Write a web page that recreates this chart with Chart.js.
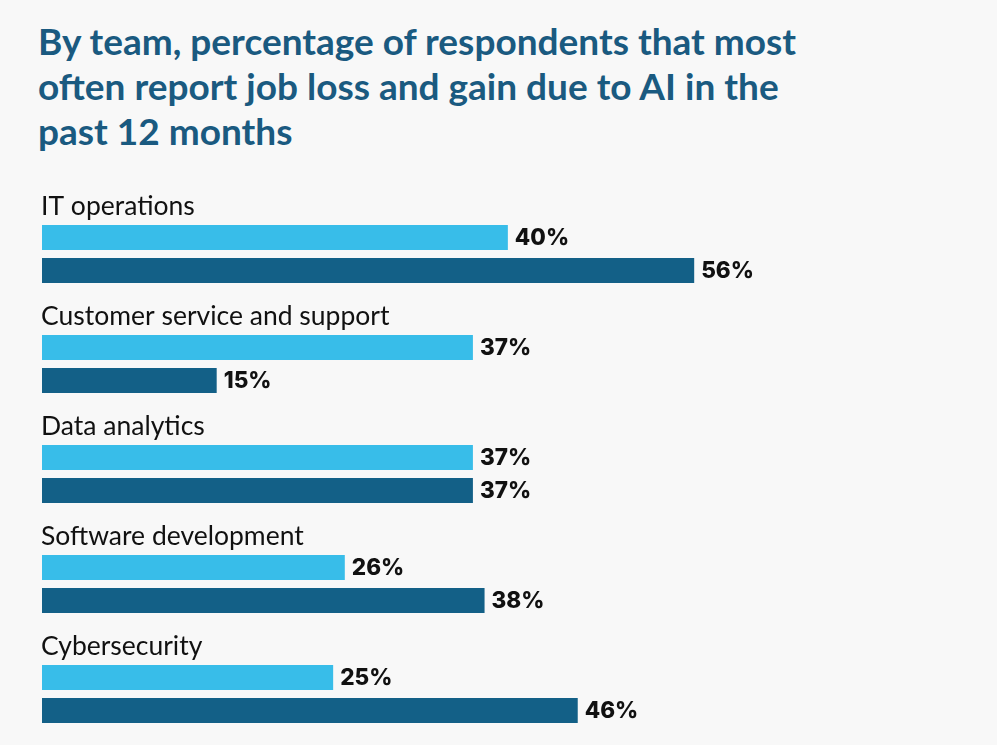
<!DOCTYPE html>
<html>
<head>
<meta charset="utf-8">
<script src="https://cdn.jsdelivr.net/npm/chart.js@4"></script>
<style>
    html, body { margin: 0; padding: 0; background: #f8f8f8; overflow: hidden; }
    h1 {
        position: absolute; left: 38px; top: 18px; margin: 0;
        font-family: Lato, sans-serif; font-weight: 700; font-size: 37px;
        line-height: 45px; color: #1a5a80; width: 900px;
    }
    #wrap { position: absolute; left: 0; top: 170px; width: 997px; height: 579px; }
</style>
</head>
<body>
<h1>By team, percentage of respondents that most<br>often report job loss and gain due to AI in the<br>past 12 months</h1>
<div id="wrap"><canvas id="myChart"></canvas></div>
<script>
// teams and the two series, in percent
const teams = [
    'IT operations',
    'Customer service and support',
    'Data analytics',
    'Software development',
    'Cybersecurity',
];
const jobLoss = [40, 37, 37, 26, 25];
const jobGain = [56, 15, 37, 38, 46];

// team name above each pair of bars + value at the end of each bar
const labelPlugin = {
    id: 'labelPlugin',
    afterDatasetsDraw: function (chart) {
        var ctx = chart.ctx;
        var yScale = chart.scales.y;
        var slot = yScale.getPixelForValue(1) - yScale.getPixelForValue(0);
        ctx.save();
        ctx.fillStyle = '#111111';
        ctx.font = '400 26.5px Lato';
        ctx.textAlign = 'left';
        ctx.textBaseline = 'alphabetic';
        for (var i = 0; i < teams.length; i++) {
            var y = yScale.getPixelForValue(i) - slot / 2 + 16;
            ctx.fillText(teams[i], chart.chartArea.left - 1, y);
        }
        ctx.font = '800 22.5px Inter';
        ctx.textBaseline = 'middle';
        chart.data.datasets.forEach(function (ds, d) {
            chart.getDatasetMeta(d).data.forEach(function (bar, i) {
                ctx.fillText(ds.data[i] + '%', bar.x + 7, bar.y + 1);
            });
        });
        ctx.restore();
    }
};

var myChart = new Chart(document.getElementById('myChart'), {
    type: 'bar',
    data: {
        labels: teams,
        datasets: [{
            label: 'Job loss',
            data: jobLoss,
            backgroundColor: '#38bde9',
        }, {
            label: 'Job gain',
            data: jobGain,
            backgroundColor: '#136087',
        }]
    },
    options: {
        indexAxis: 'y',
        responsive: true,
        maintainAspectRatio: false,
        animation: false,
        categoryPercentage: 0.6,
        barPercentage: 25 / 33,
        layout: { padding: { left: 42, top: 29, right: 0, bottom: 0 } },
        scales: {
            x: { display: false, min: 0, max: 82 },
            y: { display: false }
        },
        plugins: {
            legend: { display: false },
            tooltip: { enabled: false }
        }
    },
    plugins: [labelPlugin]
});
</script>
</body>
</html>
